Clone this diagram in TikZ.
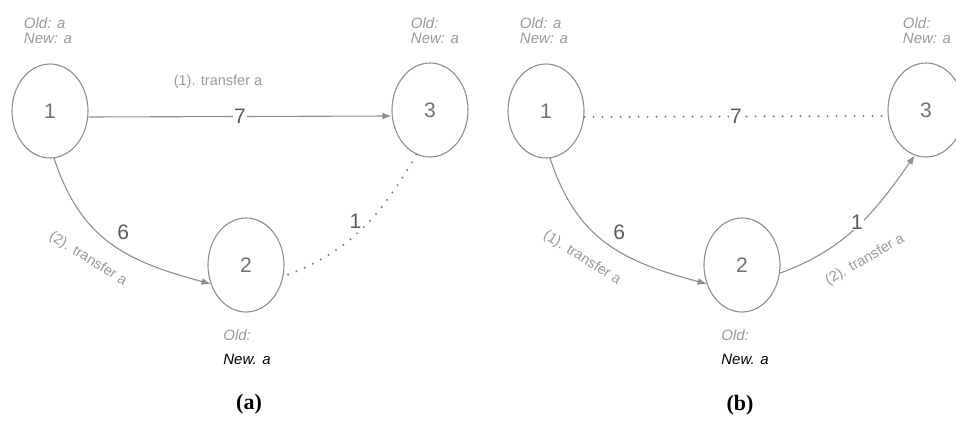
\documentclass[tikz,border=0pt]{standalone}
\usepackage{fontspec}
\setmainfont{Liberation Sans}
\newfontfamily\panelfont{Liberation Serif}
\usetikzlibrary{arrows.meta,shapes.geometric}
\definecolor{graphEdge}{HTML}{8E8E8E}
\definecolor{graphDot}{HTML}{7A7A7A}
\definecolor{graphNum}{HTML}{707070}
\definecolor{graphWeight}{HTML}{5C5C5C}
\definecolor{graphNote}{HTML}{9A9A9A}

\begin{document}
\begin{tikzpicture}[
    x=1pt,y=-1pt,>=Latex,
    vertex/.style={ellipse,draw=graphEdge,line width=1.1pt,minimum width=76pt,minimum height=94pt,inner sep=0pt,text=graphNum,font=\fontsize{21}{21}\selectfont},
    weight/.style={text=graphWeight,font=\fontsize{21}{21}\selectfont,inner sep=1pt},
    state/.style={text=graphNote,align=left,font=\fontsize{15}{15}\selectfont\itshape,inner sep=0pt},
    note/.style={text=graphNote,font=\fontsize{14.5}{14.5}\selectfont,inner sep=0pt},
    flow/.style={-{Latex[length=9pt,width=7pt]},draw=graphEdge,line width=1.1pt},
    idle/.style={draw=graphDot,line width=2.2pt,line cap=round,dash pattern=on 0pt off 9pt},
    panel/.style={font=\panelfont\fontsize{22}{22}\selectfont\bfseries}
]
\useasboundingbox (0,0) rectangle (956,423);
\clip (0,0) rectangle (956,423);

\node[vertex] (oneA) at (50,111) {1};
\node[vertex] (twoA) at (246,265) {2};
\node[vertex] (threeA) at (430,110) {3};
\node[state] (oldOneA) at (48,31) {Old: a\\New: a};
\node[state] (oldThreeA) at (435,31) {Old:\\New: a};
\node[state] (oldTwoA) at (247,347) {Old:\\[9pt]\textcolor{black}{New. a}};
\node[note] (sendThreeA) at (218,82) {(1). transfer a};
\node[note,rotate=-32] (sendTwoA) at (88,259) {(2). transfer a};
\draw[flow] ([yshift=-6pt]oneA.east) -- node[weight,fill=white] (wOneThreeA) {7} ([yshift=-6pt]threeA.west);
\draw[flow] (oneA.-85) to[out=-72,in=165,looseness=1.1] node[weight,pos=0.5,xshift=12pt,yshift=11pt] (wOneTwoA) {6} (twoA.-152);
\draw[idle] (threeA.-107) to[out=-120,in=20] node[weight,pos=0.5,xshift=-6pt,yshift=8pt] (wTwoThreeA) {1} (twoA.-17);
\node[panel] (capA) at (249,404) {(a)};

\node[vertex] (oneB) at (546,111) {1};
\node[vertex] (twoB) at (742,265) {2};
\node[vertex] (threeB) at (926,110) {3};
\node[state] (oldOneB) at (544,31) {Old: a\\New: a};
\node[state] (oldThreeB) at (927,31) {Old:\\New: a};
\node[state] (oldTwoB) at (745,347) {Old:\\[9pt]\textcolor{black}{New. a}};
\node[note,rotate=-32] (sendTwoB) at (582,258) {(1). transfer a};
\node[note,rotate=30] (sendThreeB) at (865,260) {(2). transfer a};
\draw[idle] ([yshift=-6pt]oneB.east) -- node[weight,fill=white] (wOneThreeB) {7} ([yshift=-6pt]threeB.west);
\draw[flow] (oneB.-85) to[out=-72,in=165,looseness=1.1] node[weight,pos=0.5,xshift=12pt,yshift=11pt] (wOneTwoB) {6} (twoB.-152);
\draw[flow] (twoB.-12) to[out=20,in=-125] node[weight,fill=white,pos=0.5,yshift=5pt] (wTwoThreeB) {1} (threeB.-104);
\node[panel] (capB) at (740,405) {(b)};
\end{tikzpicture}
\end{document}
